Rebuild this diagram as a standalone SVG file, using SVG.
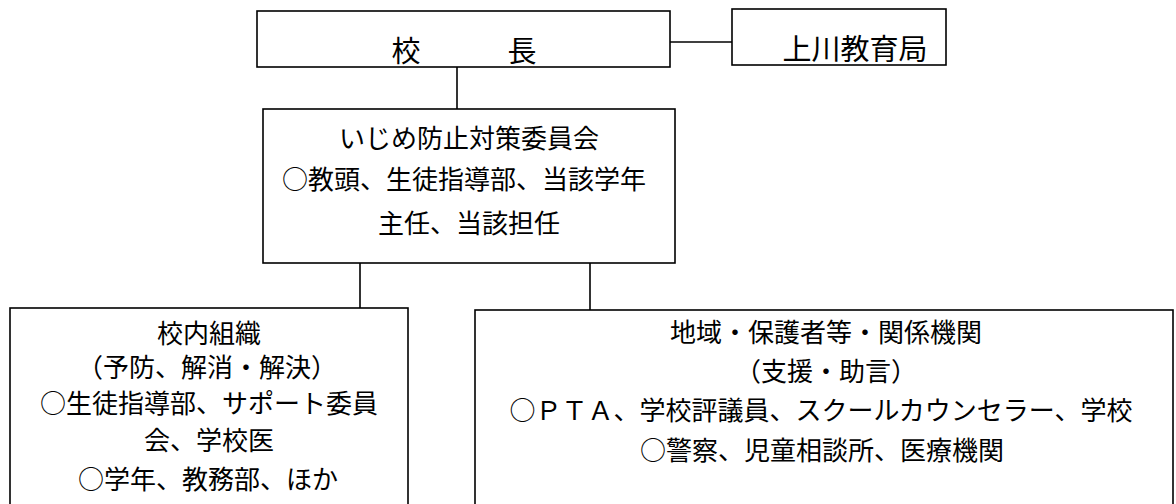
<svg xmlns="http://www.w3.org/2000/svg" width="1176" height="504" viewBox="0 0 1176 504">
<style>
.box{fill:#fff;stroke:#000;stroke-width:1.6}
.con{stroke:#000;stroke-width:1.6;fill:none}
text{font-family:"Noto Sans CJK JP","Liberation Serif",sans-serif;fill:#000;text-anchor:middle}
.t{font-size:26px}
.h{font-size:29px}
</style>
<rect width="1176" height="504" fill="#fff"/>
<g id="connectors">
<line class="con" x1="670" y1="42" x2="732" y2="42"/>
<line class="con" x1="457" y1="67" x2="457" y2="109"/>
<line class="con" x1="360" y1="263" x2="360" y2="308"/>
<line class="con" x1="590" y1="263" x2="590" y2="310"/>
</g>
<g id="principal">
<rect class="box" x="257" y="11" width="413" height="56"/>
<text class="h" x="464" y="62" xml:space="preserve">校　　　長</text>
</g>
<g id="kamikawa">
<rect class="box" x="732" y="9" width="214" height="56"/>
<text class="h" x="855" y="60">上川教育局</text>
</g>
<g id="committee">
<rect class="box" x="263" y="109" width="412" height="154"/>
<text class="t" x="469" y="148">いじめ防止対策委員会</text>
<text class="t" x="464" y="189">○教頭、生徒指導部、当該学年</text>
<text class="t" x="469" y="233">主任、当該担任</text>
</g>
<g id="school">
<rect class="box" x="10" y="308" width="398" height="220"/>
<text class="t" x="209" y="343">校内組織</text>
<text class="t" x="207" y="377">（予防、解消・解決）</text>
<text class="t" x="209" y="413">○生徒指導部、サポート委員</text>
<text class="t" x="209" y="450">会、学校医</text>
<text class="t" x="208" y="489">○学年、教務部、ほか</text>
</g>
<g id="community">
<rect class="box" x="475" y="310" width="698" height="220"/>
<text class="t" x="826" y="342">地域・保護者等・関係機関</text>
<text class="t" x="826" y="381">（支援・助言）</text>
<text class="t" x="821" y="420">○ＰＴＡ、学校評議員、スクールカウンセラー、学校</text>
<text class="t" x="822" y="460">○警察、児童相談所、医療機関</text>
</g>
</svg>
